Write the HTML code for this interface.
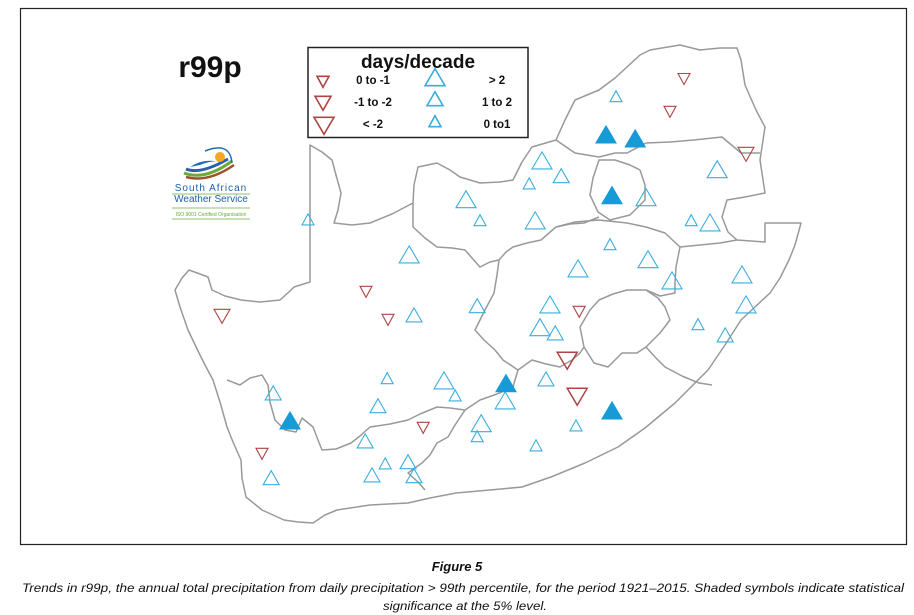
<!DOCTYPE html>
<html><head><meta charset="utf-8">
<style>
html,body{margin:0;padding:0;background:#fff;}
svg{display:block;font-family:"Liberation Sans",sans-serif;}
</style></head>
<body>
<svg id="fig" width="914" height="615" viewBox="0 0 914 615">
  <rect x="20.5" y="8.5" width="886" height="536" fill="#fff" stroke="#222" stroke-width="1.2"/>
  <text x="210" y="77" text-anchor="middle" font-size="30" font-weight="bold" fill="#111">r99p</text>

  <g>
    <g transform="translate(0,-9)">
      <path d="M190 176 Q205 166 222 172 Q215 168 200 174 Z" fill="#1d6fb8"/>
      <path d="M186 178 Q200 184 228 168" stroke="#2a5fae" stroke-width="3" fill="none"/>
      <path d="M184 182 Q205 190 232 170" stroke="#6aab3a" stroke-width="3" fill="none"/>
      <path d="M186 186 Q208 192 234 174" stroke="#a0522d" stroke-width="2.5" fill="none"/>
      <path d="M205 160 Q230 150 232 172" stroke="#1d6fb8" stroke-width="1.5" fill="none"/>
      <circle cx="220" cy="166" r="5" fill="#f5a623"/>
    </g>
    <text x="211" y="191" text-anchor="middle" font-size="10" fill="#1d5fa8" letter-spacing="1">South African</text>
    <line x1="172" y1="194" x2="250" y2="194" stroke="#6aab3a" stroke-width="0.8"/>
    <text x="211" y="202" text-anchor="middle" font-size="10" fill="#1d5fa8">Weather Service</text>
    <line x1="172" y1="208" x2="250" y2="208" stroke="#6aab3a" stroke-width="0.8"/>
    <text x="211" y="216" text-anchor="middle" font-size="5" fill="#6aab3a">ISO 9001 Certified Organisation</text>
    <line x1="172" y1="219" x2="250" y2="219" stroke="#6aab3a" stroke-width="0.8"/>
  </g>

  <g fill="none" stroke="#999" stroke-width="1.5" stroke-linejoin="round">
    <path d="M175 290 L182 278 L189 270 L200 274 L208 277 L212 290 L225 296 L241 300 L260 302 L280 300 L290 291 L294 287 L310 282 L310 145 L322 152 L332 160 L336 175 L341 193 L338 210 L334 223 L352 225 L370 223 L392 214 L413 203 L414 185 L418 167 L437 163 L450 170 L460 177 L480 183 L500 182 L513 180 L522 162 L532 147 L556 140 L565 120 L575 100 L599 90 L615 78 L627 67 L640 55 L650 50 L668 47 L680 45 L700 50 L720 48 L737 48 L741 60 L745 85 L756 110 L765 127 L760 160 L765 193 L745 197 L727 200 L722 217 L728 232 L737 240 L765 242 L765 223 L801 223 L795 245 L789 260 L780 278 L770 293 L741 320 L725 345 L708 370 L690 388 L675 403 L645 428 L618 447 L585 463 L551 477 L522 487 L490 490 L456 493 L430 498 L408 503 L370 505 L337 510 L325 515 L313 523 L298 522 L284 520 L262 510 L246 497 L242 478 L241 460 L233 442 L227 427 L220 402 L213 380 L205 365 L199 353 L188 330 L180 307 Z"/>
    <path d="M580 327 L590 310 L599 300 L613 294 L627 290 L646 290 L658 298 L665 307 L670 320 L660 333 L646 347 L637 353 L622 353 L608 367 L594 363 L584 347 Z"/>
    <path d="M413 203 L413 227 L425 238 L437 247 L452 248 L465 250 L472 258 L480 267 L490 262 L499 260 L506 252 L513 247 L527 243 L541 240 L556 227 L570 224 L584 223 L599 217"/>
    <path d="M499 260 L497 275 L494 293 L485 310 L475 330 L484 340 L495 350 L503 360 L518 370 L532 360 L546 364 L560 367 L572 360 L580 353 L584 347"/>
    <path d="M556 227 L575 222 L599 220 L627 223 L646 227 L665 233 L680 247 L676 267 L675 283 L675 293 L660 296 L646 290"/>
    <path d="M680 247 L700 245 L720 243 L737 240"/>
    <path d="M556 140 L575 153 L599 157 L615 153 L627 153 L646 143 L670 142 L694 140 L722 137 L741 153 L760 153"/>
    <path d="M599 160 L615 160 L630 165 L640 170 L645 185 L645 200 L630 215 L610 220 L598 212 L590 195 L593 178 Z"/>
    <path d="M646 347 L655 357 L665 367 L682 376 L699 383 L712 385"/>
    <path d="M518 370 L515 380 L513 387 L497 394 L480 400 L465 410 L450 408 L437 407 L420 414 L408 420 L390 424 L370 427 L360 436 L351 443 L336 449 L322 450 L318 440 L313 427 L302 418 L296 432 L285 430 L275 420 L270 402 L268 385 L262 375 L250 378 L240 385 L227 380"/>
    <path d="M465 410 L455 425 L448 437 L437 443 L430 455 L422 463 L412 470 L408 473 L418 482 L425 490"/>
  </g>

  <g>
    <rect x="308" y="47.5" width="220" height="90" fill="#fff" stroke="#222" stroke-width="1.5"/>
    <text x="418" y="68" text-anchor="middle" font-size="19" font-weight="bold" fill="#111">days/decade</text>
    <g id="legendMarks"></g>
    <g font-size="11.5" font-weight="bold" fill="#111" text-anchor="middle">
      <text x="373" y="84">0 to -1</text>
      <text x="373" y="106">-1 to -2</text>
      <text x="373" y="128">&lt; -2</text>
      <text x="497" y="84">&gt; 2</text>
      <text x="497" y="106">1 to 2</text>
      <text x="497" y="128">0 to1</text>
    </g>
  </g>

  <g id="stations"></g>

  <text x="457" y="571" text-anchor="middle" font-size="13" font-weight="bold" font-style="italic" fill="#111">Figure 5</text>
  <text x="463" y="592" text-anchor="middle" font-size="12" font-style="italic" fill="#111" textLength="882" lengthAdjust="spacingAndGlyphs">Trends in r99p, the annual total precipitation from daily precipitation &gt; 99th percentile, for the period 1921–2015. Shaded symbols indicate statistical</text>
  <text x="465" y="610" text-anchor="middle" font-size="12" font-style="italic" fill="#111" textLength="164" lengthAdjust="spacingAndGlyphs">significance at the 5% level.</text>
</svg>
<script>
// Station data: longitude (°E), latitude (°S, positive), trend (days/decade), significance
var stationLon = [27.40,25.55,26.03,25.23,23.65,24.00,25.38,29.93,28.15,29.28,29.75,27.25,28.20,26.45,28.80,30.55,22.23,19.70,25.75,30.65,22.35,23.93,29.45,25.50,25.88,30.13,21.68,23.10,25.65,23.38,24.63,18.83,21.45,24.03,23.93,26.40,21.13,25.40,21.63,22.20,21.30,22.35,18.78,
  27.15,27.88,27.30,24.65,19.25,27.30,
  29.10,28.75,30.65,21.15,17.55,21.70,26.48,26.18,26.43,22.58,18.55];
var stationLat = [23.45,25.08,25.45,25.63,26.05,26.55,26.58,25.30,26.00,26.55,26.63,27.15,27.55,27.78,28.08,27.93,27.43,26.53,28.68,28.68,28.93,28.70,29.15,29.25,29.38,29.43,30.50,30.58,30.53,30.93,31.08,30.88,31.20,31.65,31.95,31.68,32.08,32.18,32.63,32.60,32.93,32.95,33.00,
  24.43,24.53,25.95,30.65,31.58,31.33,
  22.93,23.75,24.80,28.25,28.85,28.95,28.75,29.95,30.85,31.65,32.30];
var stationTrend = [0.5,2.5,1.5,0.5,2.5,0.5,2.5,2.5,2.5,0.5,2.5,0.5,2.5,2.5,2.5,2.5,2.5,0.5,2.5,2.5,1.5,1.5,0.5,2.5,1.5,1.5,0.5,2.5,1.5,0.5,2.5,1.5,1.5,2.5,0.5,0.5,1.5,0.5,0.5,1.5,1.5,1.5,1.5,
  2.8,2.8,2.8,2.8,2.8,2.8,
  -0.5,-0.5,-1.5,-0.5,-1.5,-0.5,-0.5,-2.5,-2.5,-0.5,-0.5];
var stationSig = [0,0,0,0,0,0,0,0,0,0,0,0,0,0,0,0,0,0,0,0,0,0,0,0,0,0,0,0,0,0,0,0,0,0,0,0,0,0,0,0,0,0,0,
  1,1,1,1,1,1,
  0,0,0,0,0,0,0,0,0,0,0];

function xScale(lon){ return 40*(lon-12); }
function yScale(lat){ return 40*(lat-21); }
function sizeFor(t){ var a=Math.abs(t); return a>2?[10,17]:(a>1?[8,14]:[6,11]); }
var NS='http://www.w3.org/2000/svg';
function tri(cx,cy,t,sig){
  var s=sizeFor(t), hw=s[0], h=s[1], pts;
  if(t>=0){ pts=[[cx,cy-h*2/3],[cx+hw,cy+h/3],[cx-hw,cy+h/3]]; }
  else { pts=[[cx,cy+h*2/3],[cx+hw,cy-h/3],[cx-hw,cy-h/3]]; }
  var p=document.createElementNS(NS,'polygon');
  p.setAttribute('points',pts.map(function(q){return q[0].toFixed(1)+','+q[1].toFixed(1);}).join(' '));
  var col = t>=0 ? '#3aaede' : '#b04545';
  p.setAttribute('fill', sig ? '#169bd7' : 'none');
  p.setAttribute('stroke', sig ? '#169bd7' : col);
  p.setAttribute('stroke-width', t<0 && Math.abs(t)>2 ? '1.5' : '1.1');
  return p;
}
var g=document.getElementById('stations');
for(var i=0;i<stationLon.length;i++){
  var el=tri(xScale(stationLon[i]),yScale(stationLat[i]),stationTrend[i],stationSig[i]);
  
  
  g.appendChild(el);
}
var legendTrend=[-0.5,-1.5,-2.5,2.5,1.5,0.5];
var legendX=[323,323,324,435,435,435];
var legendY=[80,101,123,80,101,123];
var lg=document.getElementById('legendMarks');
for(var j=0;j<legendTrend.length;j++){
  var m=tri(legendX[j],legendY[j],legendTrend[j],0);
  m.setAttribute('stroke-width','1.6');
  
  
  lg.appendChild(m);
}
</script>
</body></html>
